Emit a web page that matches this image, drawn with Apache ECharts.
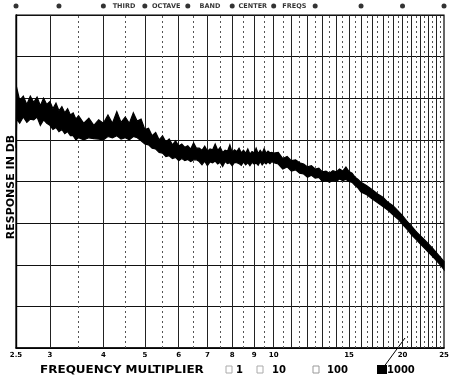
<!DOCTYPE html>
<html><head><meta charset="utf-8">
<script src="https://cdn.jsdelivr.net/npm/echarts@6/dist/echarts.min.js"></script>
<style>html,body{margin:0;padding:0;background:#fff}#c{width:463px;height:380px}</style>
</head><body><div id="c"></div>
<script>
// ---- data ----
const freqs = [2.5,2.51,2.55,2.6,2.65,2.7,2.75,2.8,2.85,2.9,2.95,3.0,3.05,3.1,3.15,3.2,3.25,3.3,3.35,3.4,3.45,3.5,
  3.6,3.7,3.8,3.9,4.0,4.1,4.2,4.3,4.4,4.5,4.6,4.7,4.8,4.9,5.0,5.1,5.2,5.3,5.4,5.5,5.6,5.7,5.8,5.9,6.0,
  6.1,6.2,6.3,6.4,6.5,6.6,6.7,6.8,6.9,7.0,7.1,7.2,7.3,7.4,7.5,7.6,7.7,7.8,7.9,8.0,8.1,8.2,8.3,8.4,8.5,8.6,8.7,8.8,8.9,9.0,9.1,9.2,9.3,9.4,9.5,9.6,9.7,9.8,9.9,10.0,
  10.25,10.5,10.75,11.0,11.25,11.5,11.75,12.0,12.25,12.5,12.75,13.0,13.25,13.5,13.75,14.0,14.25,14.5,14.75,15.0,15.25,15.5,15.75,16.0,
  16.5,17.0,17.5,18.0,18.5,19.0,19.5,20.0,20.5,21.0,21.5,22.0,22.5,23.0,23.5,24.0,24.5,25.0];
// upper and lower edges of the (noisy) response trace, dB
const upper = [50,62.5,59.5,60.5,58.5,60.5,59.0,60.3,58.2,60.0,58.5,59.2,57.5,58.8,57.0,58.0,56.5,57.5,56.0,56.5,55.0,55.8,
  54.0,55.2,53.5,54.8,54.0,56.0,54.0,56.8,54.2,55.5,54.0,56.5,54.5,55.0,52.5,52.8,51.0,51.8,50.0,51.0,49.5,50.2,48.8,49.8,48.5,
  49.0,48.2,48.6,47.8,49.3,48.0,48.0,47.5,48.5,47.3,47.8,47.6,49.0,47.5,48.2,47.0,47.5,47.3,48.8,47.0,47.6,47.2,48.0,46.9,47.5,46.8,47.8,46.6,47.2,46.9,48.0,46.7,47.5,46.8,47.9,46.8,47.3,46.9,47.0,46.8,
  47.0,45.5,46.0,45.0,45.2,44.5,44.2,43.5,43.8,43.0,43.2,42.3,42.5,42.0,42.6,42.3,43.0,42.5,43.5,42.4,42.0,41.0,40.5,39.8,
  39.0,38.0,37.0,36.2,35.0,34.2,33.0,31.8,30.4,29.3,28.0,27.0,26.0,25.0,24.0,22.9,21.8,20.8];
const lower = [48,55.0,54.0,55.5,54.2,55.0,54.8,55.5,53.5,54.8,54.0,53.5,52.5,53.0,52.0,52.5,51.5,52.0,51.0,51.0,50.0,50.5,
  50.0,50.5,50.3,50.2,50.0,50.8,50.5,51.0,50.2,50.5,50.0,50.8,50.5,49.8,49.0,48.8,48.0,47.8,47.0,46.8,46.0,46.2,45.5,45.8,45.0,
  45.5,45.0,45.3,44.8,45.2,45.2,44.8,44.0,44.9,43.8,44.7,44.5,44.9,44.2,44.6,43.6,44.8,44.3,44.5,43.8,44.6,44.5,44.3,43.9,44.7,44.0,44.5,43.8,44.6,44.2,44.4,43.9,44.8,44.0,44.6,44.2,44.7,44.3,44.8,44.5,
  44.2,43.0,43.5,42.5,42.8,42.0,41.8,41.0,41.5,40.8,41.0,40.0,40.3,39.8,40.3,40.0,40.6,40.2,40.5,40.0,39.8,39.0,38.4,37.5,
  36.8,35.8,34.9,34.0,33.1,32.0,31.0,29.7,28.5,27.2,26.1,25.0,24.0,23.0,22.0,21.0,20.0,18.8];
const tickLabels = [2.5,3,4,5,6,7,8,9,10,15,20,25];
const majorLines = [3,4,5,6,7,8,9,10,11,12,13,14,15,16,17,18,19,20,21,22,23,24];
const minorLines = [3.5,4.5,5.5,6.5,7.5,8.5,9.5,10.5,11.5,12.5,13.5,14.5,15.5,16.5,17.5,18.5,19.5,20.5,21.5,22.5,23.5,24.5];
const bandCenters = [2.5,3.15,4,5,6.3,8,10,12.5,16,20,25];
const bandWords = ['THIRD','OCTAVE','BAND','CENTER','FREQS'];
const bandWordPos = [4.47,5.61,7.1,8.94,11.18];
const multipliers = ['1','10','100','1000'];

const FONT = 'DejaVu Sans';
const chart = echarts.init(document.getElementById('c'), null, {renderer:'canvas'});
const traceData = freqs.map((f,i)=>[f,lower[i],upper[i]]);
const opt = {
  animation:false,
  backgroundColor:'#fff',
  grid:[
    {left:16,right:19,top:15,bottom:32,show:true,borderColor:'#000',borderWidth:1.2,backgroundColor:'transparent'},
    {left:16,right:19,top:1,height:10}
  ],
  xAxis:[
    {type:'log',logBase:10,min:2.5,max:25,gridIndex:0,
     axisLine:{show:true,lineStyle:{color:'#000',width:1.6}},
     axisTick:{show:false},
     splitLine:{show:false},minorSplitLine:{show:false},
     axisLabel:{show:true,customValues:tickLabels,margin:4,color:'#000',fontFamily:FONT,fontWeight:'bold',fontSize:7,
       formatter:v=>String(Math.round(v*10)/10)}},
    {type:'log',logBase:10,min:2.5,max:25,gridIndex:1,show:false}
  ],
  yAxis:[
    {type:'value',min:0,max:80,interval:10,gridIndex:0,
     axisLine:{show:true,lineStyle:{color:'#000',width:1.4}},axisTick:{show:false},axisLabel:{show:false},
     splitLine:{show:true,lineStyle:{color:'#111',width:1}}},
    {type:'value',min:0,max:1,gridIndex:1,show:false}
  ],
  series:[
    {type:'line',xAxisIndex:0,yAxisIndex:0,data:[],silent:true,z:1,
     markLine:{silent:true,symbol:'none',animation:false,label:{show:false},
       data:[
         ...majorLines.map(f=>({xAxis:f,lineStyle:{color:'#222',width:1,type:'solid'}})),
         ...minorLines.map(f=>({xAxis:f,lineStyle:{color:'#555',width:1,type:[2,3]}}))
       ]}},
    {type:'custom',name:'response',xAxisIndex:0,yAxisIndex:0,z:5,clip:false,
     data:traceData,encode:{x:0,y:[1,2]},
     renderItem:(params,api)=>{
       if(params.dataIndex!==0) return null;
       const pts=[];
       for(let i=0;i<traceData.length;i++) pts.push(api.coord([traceData[i][0],traceData[i][2]]));
       for(let i=traceData.length-1;i>=0;i--) pts.push(api.coord([traceData[i][0],traceData[i][1]]));
       return {type:'polygon',shape:{points:pts},style:{fill:'#000',stroke:'#000',lineWidth:1.2,lineJoin:'miter'}};
     }},
    {type:'scatter',xAxisIndex:1,yAxisIndex:1,clip:false,
     data:bandCenters.map(f=>[f,0.5]),symbolSize:5,itemStyle:{color:'#000'}},
    {type:'scatter',xAxisIndex:1,yAxisIndex:1,clip:false,symbolSize:0,
     data:bandWordPos.map((f,i)=>({value:[f,0.5],name:bandWords[i]})),
     label:{show:true,position:'inside',formatter:p=>p.name,color:'#000',fontFamily:FONT,fontWeight:'bold',fontSize:6.5}}
  ],
  graphic:[
    {type:'text',x:11,y:187,rotation:Math.PI/2,
     style:{text:'RESPONSE IN DB',fill:'#000',font:'bold 11px "DejaVu Sans"',align:'center',verticalAlign:'middle'}},
    {type:'text',x:40,y:370,scaleX:1.2,style:{text:'FREQUENCY MULTIPLIER',fill:'#000',font:'bold 10px "DejaVu Sans"',align:'left',verticalAlign:'middle'}},
    {type:'rect',shape:{x:226,y:366,width:6,height:7},style:{fill:'none',stroke:'#aaa',lineWidth:1}},
    {type:'text',x:236,y:370,style:{text:multipliers[0],fill:'#000',font:'bold 10px "DejaVu Sans"',verticalAlign:'middle'}},
    {type:'rect',shape:{x:257,y:366,width:6,height:7},style:{fill:'none',stroke:'#aaa',lineWidth:1}},
    {type:'text',x:272,y:370,style:{text:multipliers[1],fill:'#000',font:'bold 10px "DejaVu Sans"',verticalAlign:'middle'}},
    {type:'rect',shape:{x:313,y:366,width:6,height:7},style:{fill:'none',stroke:'#999',lineWidth:1}},
    {type:'text',x:327,y:370,style:{text:multipliers[2],fill:'#000',font:'bold 10px "DejaVu Sans"',verticalAlign:'middle'}},
    {type:'rect',shape:{x:377,y:365,width:10,height:9},style:{fill:'#000'}},
    {type:'text',x:387,y:370,style:{text:multipliers[3],fill:'#000',font:'bold 10px "DejaVu Sans"',verticalAlign:'middle'}},
    {type:'line',shape:{x1:383,y1:368,x2:405,y2:338},style:{stroke:'#000',lineWidth:1}}
  ]
};
chart.setOption(opt);
</script></body></html>
